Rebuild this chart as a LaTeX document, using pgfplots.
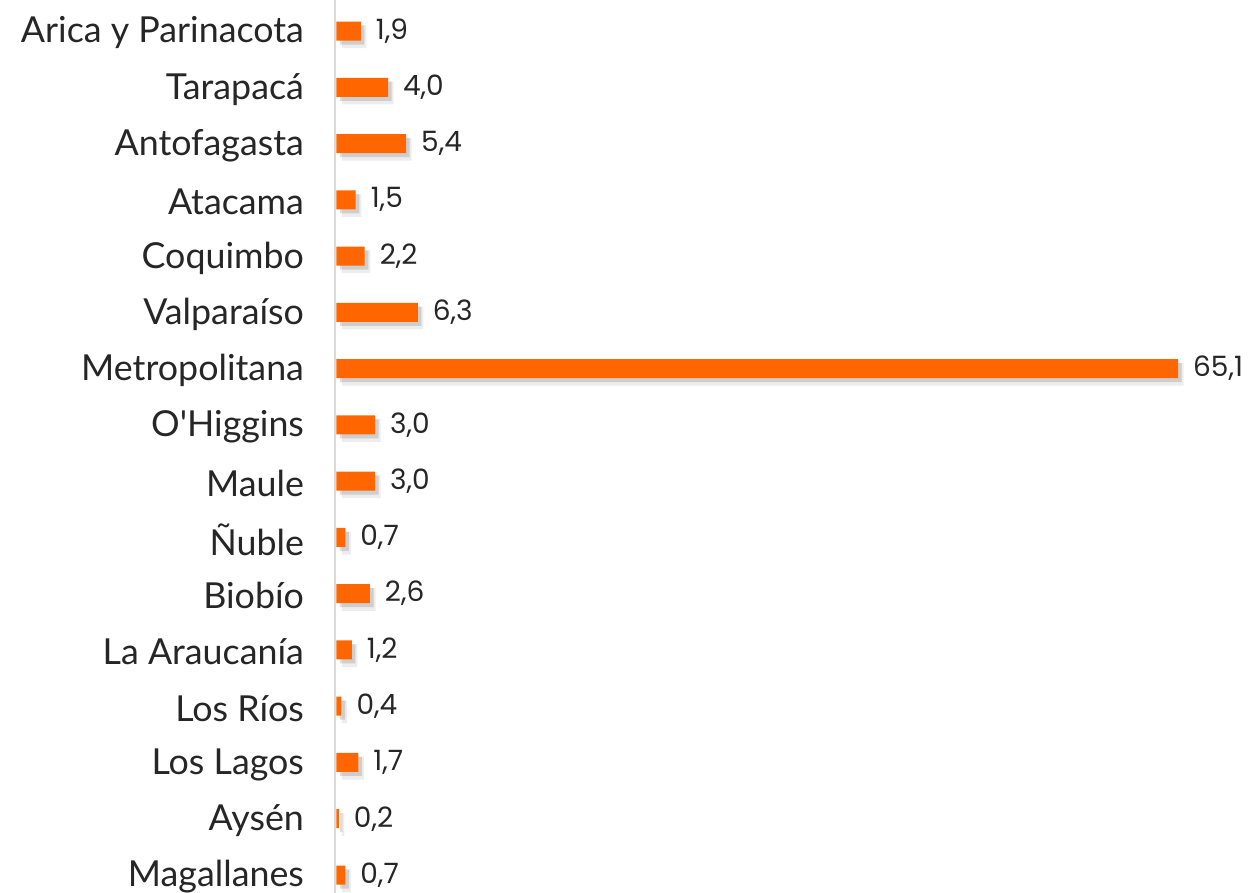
\documentclass[border=0pt]{standalone}
\usepackage{fontspec}
\setmainfont{Lato}[Ligatures=TeXOff]
\newfontfamily\valfont{Poppins}
\usepackage{pgfplots}
\pgfplotsset{compat=1.18}
\definecolor{barorange}{HTML}{FF6600}
\definecolor{axgray}{HTML}{D9D9D9}
\pgfplotstableread{
v y
1.9 0
4.0 1
5.4 2
1.5 3
2.2 4
6.3 5
65.1 6
3.0 7
3.0 8
0.7 9
2.6 10
1.2 11
0.4 12
1.7 13
0.2 14
0.7 15
}\datatab
\begin{document}
\begin{tikzpicture}
\begin{axis}[
  at={(167.5pt,0pt)}, anchor=south west,
  scale only axis,
  width=461pt, height=446.5pt,
  xmin=-0.1, xmax=71.2,
  ymin=-0.551, ymax=15.32,
  y dir=reverse,
  axis x line=none,
  axis y line*=left,
  y axis line style={axgray, line width=1.2pt},
  ytick={0,...,15},
  yticklabels={Arica y Parinacota,Tarapacá,Antofagasta,Atacama,Coquimbo,Valparaíso,Metropolitana,O'Higgins,Maule,Ñuble,Biobío,La Araucanía,Los Ríos,Los Lagos,Aysén,Magallanes},
  yticklabel style={font=\fontsize{17.9}{20}\selectfont, text=black!85, xshift=-12pt, yshift=-1pt},
  major tick length=0pt,
  xbar, bar width=9.5pt, bar shift=0pt,
  clip=false,
]
\addplot[fill=black, fill opacity=0.07, draw=none, bar shift=0pt, transform canvas={xshift=2.8pt, yshift=-2.8pt}, bar width=11.5pt] table[x=v,y=y] {\datatab};
\addplot[fill=black, fill opacity=0.13, draw=none, bar shift=0pt, transform canvas={xshift=1.8pt, yshift=-2pt}, bar width=9.5pt] table[x=v,y=y] {\datatab};
\addplot[fill=barorange, draw=none, bar shift=0pt,
  nodes near coords,
  nodes near coords style={font=\valfont\fontsize{14}{16}\selectfont, text=black!85, anchor=west, xshift=4pt,
    /pgf/number format/.cd, fixed, fixed zerofill, precision=1, use comma, assume math mode=true},
] table[x=v,y=y] {\datatab};
\end{axis}
\pgfresetboundingbox
\path[use as bounding box] (0,0) rectangle (629pt,446.5pt);
\end{tikzpicture}
\end{document}
